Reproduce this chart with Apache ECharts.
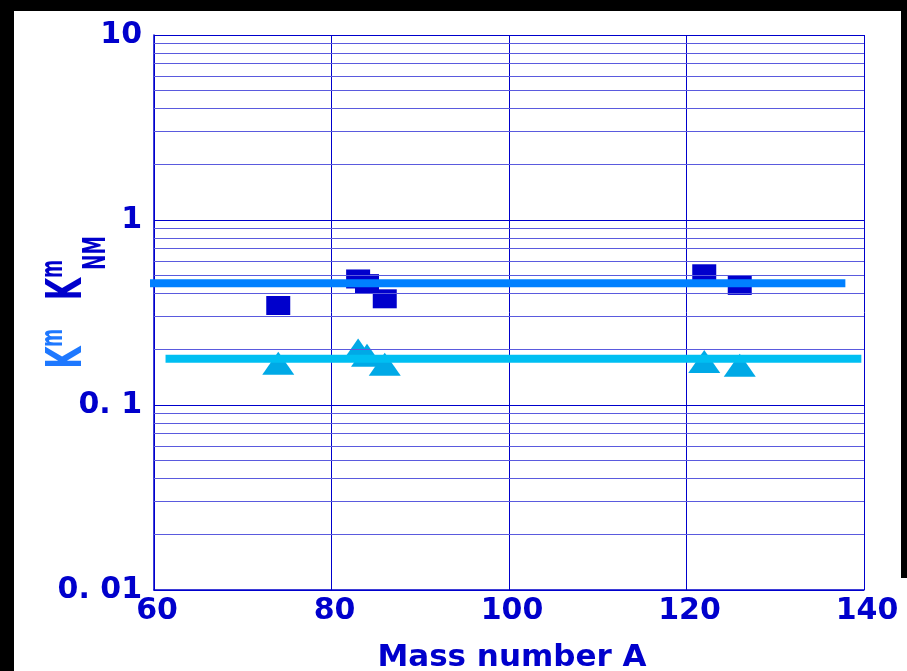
<!DOCTYPE html>
<html>
<head>
<meta charset="utf-8">
<script src="https://cdn.jsdelivr.net/npm/echarts@6/dist/echarts.min.js"></script>
<style>
html,body{margin:0;padding:0;background:#fff;}
#c{width:907px;height:671px;}
</style>
</head>
<body>
<div id="c"></div>
<script>
// ---- data ----
const massNM = [74, 83, 84, 86, 122, 126];
const kNM = [0.345, 0.48, 0.453, 0.375, 0.512, 0.443];
const massM = [74, 83, 84, 86, 122, 126];
const kM = [0.168, 0.198, 0.186, 0.166, 0.172, 0.164];
const fitNMx = [59.5, 137.9];
const fitNMy = [0.455, 0.455];
const fitMx = [61.3, 139.7];
const fitMy = [0.178, 0.178];
const xTickValues = [60, 80, 100, 120, 140];
const yTickValues = [0.01, 0.1, 1, 10];
const yTickLabels = ['0. 01', '0. 1', '1', '10'];
const minorMantissas = [2, 3, 4, 5, 6, 7, 8, 9];
const minorDecades = [0.01, 0.1, 1];
const xTitle = 'Mass number A';

const DARK = '#0000CC';
const FONT = 'DejaVu Sans';

const minorLines = [];
minorDecades.forEach(d => minorMantissas.forEach(m => minorLines.push({yAxis: +(m * d).toPrecision(3)})));

const chart = echarts.init(document.getElementById('c'), null, {renderer: 'canvas'});

function ytext(txt, x, y, size, color) {
  return {
    type: 'text', x: x, y: y, rotation: Math.PI / 2, scaleX: 0.58, z: 100,
    style: {text: txt, fill: color, font: 'bold ' + size + 'px "' + FONT + '"', align: 'center', verticalAlign: 'middle'}
  };
}

const option = {
  backgroundColor: '#ffffff',
  animation: false,
  grid: {left: 154, top: 35, width: 710, height: 555, containLabel: false, outerBoundsMode: 'none'},
  xAxis: {
    type: 'value', min: 60, max: 140, interval: 20,
    axisLine: {show: true, lineStyle: {color: DARK, width: 1.5}},
    axisTick: {show: false},
    splitLine: {show: true, lineStyle: {color: DARK, width: 1}},
    axisLabel: {
      color: DARK, fontFamily: FONT, fontWeight: 'bold', fontSize: 30, margin: 6,
      padding: [0, 0, 0, 6],
      formatter: v => String(v)
    },
    name: xTitle, nameLocation: 'middle', nameGap: 52,
    nameTextStyle: {color: DARK, fontFamily: FONT, fontWeight: 'bold', fontSize: 31, padding: [0,0,0,6]}
  },
  yAxis: {
    type: 'log', logBase: 10, min: 0.01, max: 10,
    axisLine: {show: true, lineStyle: {color: DARK, width: 1.5}},
    axisTick: {show: false},
    splitLine: {show: true, lineStyle: {color: DARK, width: 1}},
    minorTick: {show: false},
    axisLabel: {
      color: DARK, fontFamily: FONT, fontWeight: 'bold', fontSize: 30, margin: 12,
      padding: [0, 0, 7, 0],
      formatter: v => {
        const i = yTickValues.findIndex(t => Math.abs(Math.log10(t) - Math.log10(v)) < 1e-6);
        return i >= 0 ? yTickLabels[i] : '';
      }
    }
  },
  series: [
    {
      type: 'scatter', data: [], silent: true, z: 1,
      markLine: {
        silent: true, symbol: ['none', 'none'], label: {show: false},
        lineStyle: {color: '#5a5ade', width: 1, type: 'solid'},
        data: minorLines, animation: false
      }
    },
    {
      type: 'scatter', name: 'KmNM', symbol: 'rect', symbolSize: [24, 19], z: 3,
      itemStyle: {color: DARK, opacity: 1},
      data: massNM.map((x, i) => [x, kNM[i]])
    },
    {
      type: 'scatter', name: 'Km', symbol: 'triangle', symbolSize: [32, 23], z: 3,
      itemStyle: {color: '#00A9E6', opacity: 1},
      data: massM.map((x, i) => [x, kM[i]])
    },
    {
      type: 'line', clip: false, symbol: 'none', z: 4,
      lineStyle: {color: '#0080FF', width: 8, cap: 'butt'},
      data: fitNMx.map((x, i) => [x, fitNMy[i]])
    },
    {
      type: 'line', clip: false, symbol: 'none', z: 4,
      lineStyle: {color: '#00BFF2', width: 8, cap: 'butt'},
      data: fitMx.map((x, i) => [x, fitMy[i]])
    }
  ],
  graphic: [
    {type: 'rect', shape: {x: 0, y: 0, width: 907, height: 11}, style: {fill: '#000'}, z: 200},
    {type: 'rect', shape: {x: 0, y: 0, width: 14, height: 671}, style: {fill: '#000'}, z: 200},
    {type: 'rect', shape: {x: 901, y: 0, width: 6, height: 578}, style: {fill: '#000'}, z: 200},
    ytext('K', 68.5, 357.5, 50, '#1E78FF'),
    ytext('m', 54, 338, 30, '#1E78FF'),
    ytext('K', 68.5, 289, 50, DARK),
    ytext('m', 54, 269, 30, DARK),
    ytext('NM', 97, 253, 32, DARK)
  ]
};
chart.setOption(option);
</script>
</body>
</html>
